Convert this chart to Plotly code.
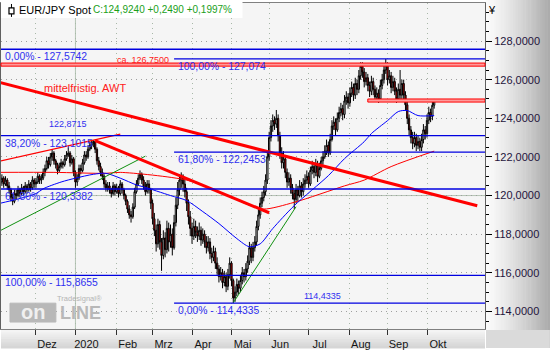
import plotly.graph_objects as go
import pandas as pd

# ---------------- data ----------------
dates = pd.bdate_range("2019-11-04", "2020-10-07")  # daily bars (243)

opens = [
    120.6, 120.7, 120.9, 120.6, 120.8, 120.5, 120.3, 119.9, 119.7, 120.1,
    120.0, 120.3, 120.1, 120.4, 120.2, 120.5, 120.3, 120.6, 120.4, 120.8,
    120.6, 120.7, 121.0, 120.8, 120.9, 121.2, 121.4, 121.8, 121.6, 122.0,
    122.2, 121.8, 121.6, 121.3, 121.5, 121.7, 121.6, 121.9, 122.1, 122.2,
    121.7, 121.9, 121.2, 120.7, 120.9, 121.4, 121.3, 121.7, 122.1, 122.0,
    122.4, 122.6, 122.7, 122.8, 122.4, 121.8, 121.5, 121.2, 121.0, 120.6,
    120.4, 120.5, 120.3, 120.1, 120.5, 120.2, 120.4, 120.1, 120.6, 120.3,
    120.0, 119.7, 119.3, 119.0, 118.9, 119.4, 120.2, 120.6, 120.9, 121.1,
    120.8, 120.5, 120.2, 120.6, 120.3, 119.6, 118.8, 118.2, 117.5, 118.5,
    117.6, 116.9, 117.8, 117.2, 118.3, 117.6, 118.0, 117.3, 118.6, 119.5,
    120.3, 120.8, 121.0, 120.6, 120.2, 119.6, 118.9, 118.3, 117.9, 118.4,
    118.1, 117.9, 118.2, 117.7, 118.0, 117.6, 117.3, 117.6, 117.0, 116.8,
    117.1, 116.5, 116.2, 115.8, 116.0, 115.5, 115.8, 115.3, 115.9, 116.5,
    115.6, 114.7, 115.0, 115.4, 115.2, 115.6, 116.0, 115.8, 116.2, 116.6,
    117.3, 116.8, 117.3, 117.6, 118.4, 119.0, 119.6, 119.9, 120.2, 120.8,
    122.0, 123.0, 123.6, 123.9, 123.7, 124.0, 123.1, 122.2, 121.7, 121.9,
    121.2, 120.7, 120.9, 120.4, 120.1, 119.8, 120.3, 120.0, 120.5, 120.2,
    120.6, 120.8, 121.0, 120.6, 121.3, 121.5, 121.2, 121.6, 121.0, 121.4,
    121.8, 122.0, 122.3, 122.6, 122.2, 122.9, 123.6, 123.8, 123.4, 124.0,
    124.3, 124.5, 124.2, 124.9, 125.1, 124.8, 125.3, 125.6, 125.2, 125.8,
    125.5, 126.2, 126.7, 126.4, 125.9, 126.1, 125.7, 125.4, 125.9, 125.5,
    125.1, 125.3, 125.0, 125.7, 126.0, 126.5, 126.8, 126.0, 126.2, 125.6,
    125.9, 125.4, 125.0, 125.5, 125.2, 125.8, 125.2, 124.7, 124.0, 123.4,
    123.0, 122.7, 123.0, 122.6, 122.8, 122.5, 122.9, 123.4, 123.2, 123.9,
    124.3, 124.1, 124.675,
]
highs = [
    120.9, 121.1, 121.0, 121.0, 120.9, 120.7, 120.4, 120.1, 120.3, 120.3,
    120.5, 120.4, 120.6, 120.5, 120.7, 120.6, 120.8, 120.7, 121.0, 120.9,
    120.9, 121.2, 121.1, 121.1, 121.4, 121.6, 122.0, 122.0, 122.2, 122.4,
    122.3, 121.9, 121.7, 121.7, 121.9, 121.8, 122.1, 122.3, 122.5, 122.3,
    122.1, 122.0, 121.3, 121.1, 121.6, 121.6, 121.9, 122.3, 122.3, 122.6,
    122.8, 122.85, 122.87, 122.85, 122.5, 122.0, 121.7, 121.4, 121.1, 120.8,
    120.7, 120.7, 120.4, 120.7, 120.6, 120.6, 120.5, 120.8, 120.7, 120.4,
    120.1, 119.8, 119.5, 119.2, 119.6, 120.4, 120.8, 121.1, 121.3, 121.2,
    121.0, 120.7, 120.8, 120.8, 120.4, 119.8, 119.1, 118.5, 118.8, 118.7,
    117.8, 118.2, 118.1, 118.7, 118.6, 118.5, 118.3, 119.0, 119.9, 120.7,
    121.1, 121.2, 121.1, 120.9, 120.4, 119.8, 119.2, 118.6, 118.8, 118.7,
    118.4, 118.6, 118.4, 118.3, 118.2, 117.9, 117.9, 117.8, 117.3, 117.4,
    117.3, 116.8, 116.4, 116.3, 116.2, 116.1, 116.0, 116.2, 116.8, 116.6,
    115.7, 115.3, 115.7, 115.6, 115.9, 116.3, 116.2, 116.5, 116.9, 117.6,
    117.5, 117.6, 117.9, 118.7, 119.3, 119.9, 120.2, 120.5, 121.1, 122.3,
    123.3, 123.9, 124.2, 124.1, 124.43, 124.2, 123.3, 122.5, 122.3, 122.1,
    121.4, 121.2, 121.1, 120.6, 120.3, 120.6, 120.5, 120.8, 120.7, 120.9,
    121.1, 121.3, 121.2, 121.5, 121.8, 121.7, 121.9, 121.8, 121.7, 122.0,
    122.3, 122.6, 122.9, 122.8, 123.2, 123.9, 124.1, 124.0, 124.3, 124.6,
    124.8, 124.7, 125.2, 125.4, 125.3, 125.6, 125.9, 125.8, 126.1, 126.0,
    126.5, 126.9, 126.9, 126.6, 126.4, 126.3, 125.9, 126.2, 126.1, 125.7,
    125.6, 125.5, 126.0, 126.3, 126.8, 127.07, 126.9, 126.5, 126.4, 126.2,
    126.1, 125.6, 125.8, 126.5, 126.0, 126.0, 125.4, 124.9, 124.2, 123.6,
    123.3, 123.3, 123.2, 123.1, 123.0, 123.2, 123.7, 123.6, 124.2, 124.6,
    124.5, 124.9, 125.0,
]
lows = [
    120.4, 120.5, 120.4, 120.5, 120.3, 120.1, 119.7, 119.5, 119.6, 119.8,
    119.9, 119.9, 120.0, 120.0, 120.1, 120.1, 120.2, 120.2, 120.3, 120.4,
    120.4, 120.6, 120.6, 120.6, 120.8, 121.0, 121.3, 121.4, 121.5, 121.8,
    121.6, 121.4, 121.1, 121.2, 121.4, 121.4, 121.5, 121.8, 122.0, 121.5,
    121.6, 121.0, 120.4, 120.5, 120.8, 121.1, 121.2, 121.6, 121.8, 121.9,
    122.3, 122.4, 122.5, 122.2, 121.6, 121.3, 121.0, 120.8, 120.4, 120.2,
    120.2, 120.1, 119.9, 120.0, 120.0, 120.1, 119.9, 120.0, 120.1, 119.8,
    119.5, 119.1, 118.8, 118.6, 118.8, 119.3, 120.1, 120.5, 120.8, 120.6,
    120.3, 120.0, 120.1, 120.1, 119.3, 118.5, 117.9, 117.1, 117.3, 117.2,
    116.1, 116.7, 116.8, 117.0, 117.1, 117.3, 116.9, 117.2, 118.4, 119.3,
    120.0, 120.4, 120.2, 119.9, 119.2, 118.5, 117.9, 117.5, 117.7, 117.8,
    117.6, 117.7, 117.4, 117.5, 117.3, 117.0, 117.1, 116.7, 116.5, 116.6,
    116.2, 115.9, 115.5, 115.6, 115.2, 115.3, 115.0, 115.1, 115.7, 115.3,
    114.43, 114.5, 114.8, 114.9, 115.0, 115.4, 115.5, 115.6, 116.0, 116.4,
    116.5, 116.6, 117.1, 117.4, 118.2, 118.8, 119.4, 119.7, 120.0, 120.6,
    121.8, 122.8, 123.3, 123.4, 123.5, 122.8, 121.9, 121.4, 121.4, 120.9,
    120.4, 120.5, 120.1, 119.8, 119.3, 119.6, 119.7, 119.9, 119.9, 120.0,
    120.4, 120.6, 120.4, 120.5, 121.1, 120.9, 121.0, 120.7, 120.9, 121.3,
    121.6, 121.9, 122.1, 122.0, 122.1, 122.8, 123.4, 123.1, 123.3, 123.8,
    124.1, 123.9, 124.0, 124.7, 124.5, 124.6, 125.1, 124.9, 125.0, 125.2,
    125.3, 126.0, 126.1, 125.6, 125.7, 125.4, 125.1, 125.2, 125.2, 124.9,
    124.9, 124.8, 124.9, 125.5, 125.8, 126.3, 125.7, 125.8, 125.3, 125.4,
    125.2, 124.8, 124.9, 125.0, 125.0, 124.9, 124.4, 123.7, 123.1, 122.7,
    122.4, 122.5, 122.3, 122.4, 122.3, 122.3, 122.7, 122.9, 123.0, 123.7,
    123.8, 123.9, 124.5,
]
closes = [
    120.7, 120.9, 120.6, 120.8, 120.5, 120.3, 119.9, 119.7, 120.1, 120.0,
    120.3, 120.1, 120.4, 120.2, 120.5, 120.3, 120.6, 120.4, 120.8, 120.6,
    120.7, 121.0, 120.8, 120.9, 121.2, 121.4, 121.8, 121.6, 122.0, 122.2,
    121.8, 121.6, 121.3, 121.5, 121.7, 121.6, 121.9, 122.1, 122.2, 121.7,
    121.9, 121.2, 120.7, 120.9, 121.4, 121.3, 121.7, 122.1, 122.0, 122.4,
    122.6, 122.7, 122.8, 122.4, 121.8, 121.5, 121.2, 121.0, 120.6, 120.4,
    120.5, 120.3, 120.1, 120.5, 120.2, 120.4, 120.1, 120.6, 120.3, 120.0,
    119.7, 119.3, 119.0, 118.9, 119.4, 120.2, 120.6, 120.9, 121.1, 120.8,
    120.5, 120.2, 120.6, 120.3, 119.6, 118.8, 118.2, 117.5, 118.5, 117.6,
    116.9, 117.8, 117.2, 118.3, 117.6, 118.0, 117.3, 118.6, 119.5, 120.3,
    120.8, 121.0, 120.6, 120.2, 119.6, 118.9, 118.3, 117.9, 118.4, 118.1,
    117.9, 118.2, 117.7, 118.0, 117.6, 117.3, 117.6, 117.0, 116.8, 117.1,
    116.5, 116.2, 115.8, 116.0, 115.5, 115.8, 115.3, 115.9, 116.5, 115.6,
    114.7, 115.0, 115.4, 115.2, 115.6, 116.0, 115.8, 116.2, 116.6, 117.3,
    116.8, 117.3, 117.6, 118.4, 119.0, 119.6, 119.9, 120.2, 120.8, 122.0,
    123.0, 123.6, 123.9, 123.7, 124.0, 123.1, 122.2, 121.7, 121.9, 121.2,
    120.7, 120.9, 120.4, 120.1, 119.8, 120.3, 120.0, 120.5, 120.2, 120.6,
    120.8, 121.0, 120.6, 121.3, 121.5, 121.2, 121.6, 121.0, 121.4, 121.8,
    122.0, 122.3, 122.6, 122.2, 122.9, 123.6, 123.8, 123.4, 124.0, 124.3,
    124.5, 124.2, 124.9, 125.1, 124.8, 125.3, 125.6, 125.2, 125.8, 125.5,
    126.2, 126.7, 126.4, 125.9, 126.1, 125.7, 125.4, 125.9, 125.5, 125.1,
    125.3, 125.0, 125.7, 126.0, 126.5, 126.8, 126.0, 126.2, 125.6, 125.9,
    125.4, 125.0, 125.5, 125.2, 125.8, 125.2, 124.7, 124.0, 123.4, 123.0,
    122.7, 123.0, 122.6, 122.8, 122.5, 122.9, 123.4, 123.2, 123.9, 124.3,
    124.1, 124.675, 124.924,
]

# moving averages
ma_blue_dates = ["2019-11-04", "2019-11-15", "2019-12-02", "2019-12-06", "2019-12-20",
                 "2020-01-01", "2020-01-15", "2020-01-24", "2020-02-05", "2020-02-18",
                 "2020-02-24", "2020-03-16", "2020-03-27", "2020-04-09", "2020-04-22",
                 "2020-05-06", "2020-05-15", "2020-05-25", "2020-06-03", "2020-06-19",
                 "2020-07-16", "2020-07-29", "2020-08-13", "2020-08-19", "2020-09-01",
                 "2020-09-09", "2020-09-16", "2020-09-24", "2020-10-07"]
ma_blue_vals = [119.6, 119.8, 120.1, 120.35, 120.7, 120.9, 121.1, 121.15, 120.9, 120.55,
                120.45, 120.0, 119.74, 119.17, 118.55, 117.77, 117.35, 117.5, 118.29, 119.48,
                121.03, 121.91, 122.79, 123.21, 123.88, 124.35, 124.4, 124.14, 124.14]
ma_red_dates = ["2019-11-04", "2019-12-16", "2020-01-24", "2020-02-05", "2020-03-27",
                "2020-04-22", "2020-05-15", "2020-05-27", "2020-06-19", "2020-07-29",
                "2020-08-13", "2020-09-03", "2020-10-07"]
ma_red_vals = [121.2, 121.2, 121.15, 121.2, 120.8, 120.2, 119.5, 119.3, 119.65, 120.5,
               120.8, 121.5, 122.3]

# trend lines: (start date, start value, end date, end value)
trend_thick = [("2019-11-04", 125.85, "2020-11-10", 119.47),
               ("2020-01-16", 122.84, "2020-06-01", 119.11)]
trend_thin_red = [("2019-11-04", 121.79, "2020-02-05", 123.18)]
trend_green = [("2019-11-04", 118.18, "2020-02-25", 122.04),
               ("2020-05-04", 114.45, "2020-06-22", 119.42)]

# Fibonacci levels: (value, label, start date or None for full width, label x pixel)
fib_levels = [
    (127.5742, "0,00% - 127,5742", None, 2),
    (127.074, "100,00% - 127,074", "2020-03-18", 175),
    (123.1015, "38,20% - 123,1015", None, 2),
    (122.2453, "61,80% - 122,2453", "2020-03-18", 175),
    (120.3382, "61,80% - 120,3382", None, 2),
    (115.8655, "100,00% - 115,8655", None, 2),
    (114.4335, "0,00% - 114,4335", "2020-03-18", 175),
]
red_zones = [(126.70, 126.86, None), (124.84, 125.00, "2020-08-17")]

month_ticks = ["2019-12-02", "2020-01-01", "2020-02-03", "2020-03-02", "2020-04-01",
               "2020-05-01", "2020-06-01", "2020-07-01", "2020-08-03", "2020-09-01",
               "2020-10-01"]
month_labels = ["Dez", "2020", "Feb", "Mrz", "Apr", "Mai", "Jun", "Jul", "Aug", "Sep", "Okt"]

X_START, X_END = "2019-11-04 12:00", "2020-11-16 08:00"
Y_MIN, Y_MAX = 113.09, 129.97

# ---------------- layout helpers ----------------
W, H = 550, 350
PL, PR, PT, PB = 0, 485, 3, 331


def px(x):
    return (x - PL) / (PR - PL)


def py(y):
    return (PB - y) / (PB - PT)


SANS = "Liberation Sans, Arial, sans-serif"
FIB_BLUE = "#3030f0"

fig = go.Figure()

fig.add_trace(go.Candlestick(
    x=dates, open=opens, high=highs, low=lows, close=closes,
    increasing=dict(line=dict(color="black", width=1), fillcolor="white"),
    decreasing=dict(line=dict(color="black", width=1), fillcolor="#ff0000"),
    whiskerwidth=0, showlegend=False, hoverinfo="skip",
))

fig.add_trace(go.Scatter(x=ma_red_dates, y=ma_red_vals, mode="lines",
                         line=dict(color="#ff0000", width=1, shape="spline", smoothing=0.8),
                         showlegend=False, hoverinfo="skip"))
fig.add_trace(go.Scatter(x=ma_blue_dates, y=ma_blue_vals, mode="lines",
                         line=dict(color="#0000ff", width=1, shape="spline", smoothing=0.8),
                         showlegend=False, hoverinfo="skip"))

for (d0, v0, d1, v1) in trend_thin_red:
    fig.add_trace(go.Scatter(x=[d0, d1], y=[v0, v1], mode="lines",
                             line=dict(color="#ff0000", width=1.2),
                             showlegend=False, hoverinfo="skip"))
for (d0, v0, d1, v1) in trend_green:
    fig.add_trace(go.Scatter(x=[d0, d1], y=[v0, v1], mode="lines",
                             line=dict(color="#109010", width=1),
                             showlegend=False, hoverinfo="skip"))
for (d0, v0, d1, v1) in trend_thick:
    fig.add_trace(go.Scatter(x=[d0, d1], y=[v0, v1], mode="lines",
                             line=dict(color="#ff0000", width=3),
                             showlegend=False, hoverinfo="skip"))

shapes = []
# year separator and 120 line
shapes.append(dict(type="line", xref="x", yref="paper", x0="2020-01-01", x1="2020-01-01",
                   y0=0, y1=1, line=dict(color="#b4c4b4", width=1), layer="below"))
shapes.append(dict(type="line", xref="paper", yref="y", x0=0, x1=1, y0=120, y1=120,
                   line=dict(color="#b4c4b4", width=1), layer="below"))

for (v, lab, d0, lx) in fib_levels:
    if d0 is None:
        shapes.append(dict(type="line", xref="paper", yref="y", x0=0, x1=1, y0=v, y1=v,
                           line=dict(color="#0000e0", width=1.3)))
    else:
        shapes.append(dict(type="line", xref="x", yref="y", x0=d0, x1=X_END, y0=v, y1=v,
                           line=dict(color="#0000e0", width=1.3)))
for (v0, v1, d0) in red_zones:
    if d0 is None:
        shapes.append(dict(type="rect", xref="paper", yref="y", x0=0, x1=1, y0=v0, y1=v1,
                           line=dict(color="#ff0000", width=1), fillcolor="#ff9a9a"))
    else:
        shapes.append(dict(type="rect", xref="x", yref="y", x0=d0, x1=X_END, y0=v0, y1=v1,
                           line=dict(color="#ff0000", width=1), fillcolor="#ff9a9a"))

# right axis panel gradient
n = 26
for k in range(n):
    t = k / (n - 1)
    g = int(250 - 78 * t ** 1.3)
    x0 = PR + 1 + k * (W - PR - 1) / n
    x1 = PR + 1 + (k + 1) * (W - PR - 1) / n + 0.5
    shapes.append(dict(type="rect", xref="paper", yref="paper", x0=px(x0), x1=px(x1),
                       y0=py(H), y1=py(0), line=dict(width=0),
                       fillcolor=f"rgb({g},{g},{g})", layer="below"))
# bottom strip gradient
m = 8
for k in range(m):
    t = k / (m - 1)
    g = int(244 - 30 * t)
    y0 = PB + 1 + k * (H - PB - 1) / m
    y1 = PB + 1 + (k + 1) * (H - PB - 1) / m + 0.5
    shapes.append(dict(type="rect", xref="paper", yref="paper", x0=0, x1=px(PR),
                       y0=py(y1), y1=py(y0), line=dict(width=0),
                       fillcolor=f"rgb({g},{g},{g})", layer="below"))
shapes.append(dict(type="rect", xref="paper", yref="paper", x0=px(PR + 1), x1=px(W),
                   y0=py(H), y1=py(PB + 1), line=dict(width=0), fillcolor="#dadada",
                   layer="below"))

# header box and candle icon
shapes.append(dict(type="rect", xref="paper", yref="paper", x0=px(0), x1=px(242),
                   y0=py(18), y1=py(0), line=dict(width=0), fillcolor="white"))
shapes.append(dict(type="line", xref="paper", yref="paper", x0=px(10.5), x1=px(10.5),
                   y0=py(17), y1=py(4), line=dict(color="black", width=1)))
shapes.append(dict(type="rect", xref="paper", yref="paper", x0=px(8), x1=px(13),
                   y0=py(14), y1=py(8), line=dict(color="black", width=1.2),
                   fillcolor="white"))
# watermark box
shapes.append(dict(type="rect", xref="paper", yref="paper", x0=px(9), x1=px(55),
                   y0=py(324), y1=py(305), line=dict(color="#b8b8b8", width=1),
                   fillcolor="#b8b8b8"))

annotations = []


def ann(text, x, y, size, color, family=SANS, xanchor="left", yanchor="middle", **kw):
    annotations.append(dict(text=text, xref="paper", yref="paper", x=px(x), y=py(y),
                            xanchor=xanchor, yanchor=yanchor, showarrow=False,
                            font=dict(size=size, color=color, family=family), **kw))


for (v, lab, d0, lx) in fib_levels:
    annotations.append(dict(text=lab, xref="paper", yref="y", x=px(lx), y=v,
                            xanchor="left", yanchor="top", yshift=0, showarrow=False,
                            font=dict(size=10.4, color=FIB_BLUE, family=SANS)))

ann("EUR/JPY Spot", 16, 10, 11, "black")
ann("C:124,9240 +0,2490 +0,1997%", 90, 10, 10, "#1aa01a")
ann("ca. 126,7500", 114, 60, 9, "#ff2020")
ann("mittelfristig. AWT", 41, 89, 11, "#ff2020")
ann("122,8715", 67, 125, 9, FIB_BLUE, xanchor="center")
ann("114,4335", 322, 298, 9, FIB_BLUE, xanchor="center")
ann("¥", 492, 10, 11, "black", xanchor="center")
ann("Tradesignal®", 79, 300, 7.5, "#b4b4b4", xanchor="center")
ann("<b>on</b>", 32, 314, 20, "#f0f0f0", xanchor="center")
ann("<b>LINE</b>", 80, 315, 18, "#b8b8b8", xanchor="center")

fig.update_layout(
    width=W, height=H, autosize=False,
    margin=dict(l=PL, r=W - PR, t=PT, b=H - PB, pad=0),
    paper_bgcolor="white", plot_bgcolor="#f5f5f5",
    separators=",.",
    showlegend=False,
    boxgap=0,
    shapes=shapes, annotations=annotations,
    xaxis=dict(
        type="date", range=[X_START, X_END],
        rangebreaks=[dict(bounds=["sat", "mon"])],
        rangeslider=dict(visible=False),
        tickmode="array", tickvals=month_ticks, ticktext=month_labels,
        ticks="outside", ticklen=5, tickcolor="#303030", tickwidth=1,
        ticklabelshift=11, ticklabelstandoff=0,
        tickfont=dict(size=11, color="#151515", family=SANS),
        showgrid=True, gridcolor="#a8b8a8", griddash="1px,4px", gridwidth=1,
        showline=True, linecolor="#808080", linewidth=1, mirror=True,
        zeroline=False, fixedrange=True,
    ),
    yaxis=dict(
        side="right", range=[Y_MIN, Y_MAX],
        tickmode="linear", tick0=0, dtick=2, tickformat=".4f",
        ticks="outside", ticklen=6, tickcolor="black", tickwidth=1,
        minor=dict(dtick=0.5, tick0=0, ticks="outside", ticklen=3, tickcolor="black",
                   showgrid=False),
        tickfont=dict(size=11, color="#24143c", family=SANS),
        showgrid=True, gridcolor="#a0a0a0", griddash="1px,4px", gridwidth=1,
        showline=True, linecolor="#606060", linewidth=1, mirror=True,
        zeroline=False, fixedrange=True,
    ),
)

fig.write_html("out.html")
